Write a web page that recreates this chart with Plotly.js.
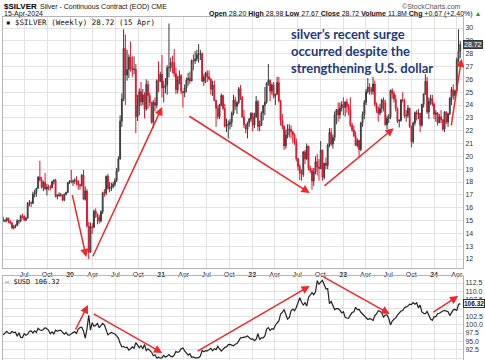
<!DOCTYPE html>
<html><head><meta charset="utf-8">
<script src="https://cdn.plot.ly/plotly-3.0.1.min.js"></script>
<style>html,body{margin:0;padding:0;background:#fff}#c{width:485px;height:360px}</style>
</head><body><div id="c"></div>
<script>
// Weekly bars, week starting Monday 2019-04-08 through 2024-04-15
const firstWeek = '2019-04-08';
const silverOpen = [15.10,14.97,14.98,15.18,14.95,14.80,14.41,14.56,14.60,14.98,14.98,15.37,15.34,15.04,15.18,16.34,16.39,16.34,17.05,17.17,17.51,18.38,18.16,17.58,17.97,17.45,17.62,17.59,17.56,18.03,18.15,16.87,16.98,16.98,16.98,16.59,17.06,17.19,17.96,
18.09,18.01,18.07,18.12,18.09,17.78,17.70,18.55,16.66,17.30,14.58,12.52,14.52,14.47,15.73,15.50,15.28,14.97,15.69,17.17,17.13,18.46,17.50,17.54,17.64,17.82,18.11,18.86,19.79,22.74,24.47,28.42,26.33,26.77,27.73,26.93,26.75,26.80,23.08,23.96,25.05,24.24,24.79,23.70,25.61,24.75,24.20,22.65,24.21,23.98,25.90,25.83,
26.40,25.35,25.43,25.58,26.91,26.92,27.32,27.31,26.44,25.19,25.96,26.29,25.07,24.96,25.33,25.93,26.08,25.87,27.47,27.43,27.58,27.95,27.99,27.99,25.86,26.17,26.50,26.21,26.02,25.22,25.56,24.36,23.75,23.09,24.00,24.74,23.74,22.35,22.43,22.50,22.66,23.37,24.40,23.90,24.19,25.27,24.60,23.07,22.46,22.11,22.59,22.91,
23.35,22.42,23.07,24.27,22.34,22.41,23.38,23.97,24.23,25.68,25.93,25.08,25.56,24.68,24.84,25.75,24.32,22.79,22.36,20.81,21.67,22.10,22.11,21.91,21.68,21.13,19.82,19.22,18.69,18.60,20.35,19.80,20.80,19.06,18.90,18.08,18.78,19.59,19.17,19.05,20.49,18.37,19.47,19.28,20.89,21.87,20.96,21.48,23.24,23.64,23.23,23.77,
24.04,23.81,24.23,23.89,23.67,22.42,22.07,21.61,20.85,21.23,20.53,22.62,23.28,24.20,25.03,25.41,25.25,25.05,25.64,24.06,23.71,23.36,23.73,24.39,24.16,22.46,22.96,23.06,25.15,24.90,24.46,23.75,22.76,22.79,24.40,24.35,23.16,23.18,23.75,22.33,21.14,22.60,23.41,23.29,23.36,22.43,24.06,24.85,25.85,23.46,24.29,24.50,
24.08,23.29,23.39,22.61,23.08,22.86,22.11,23.47,22.66,23.33,24.55,25.20,24.72,25.10,27.53,28.20];
const silverHigh = [15.30,15.10,15.25,15.22,15.05,14.90,14.65,14.70,15.10,15.05,15.45,15.55,15.40,15.30,16.45,16.60,16.50,17.25,17.40,17.55,18.45,19.65,18.40,18.10,18.70,17.85,17.80,17.75,18.10,18.20,18.25,17.05,17.20,17.15,17.05,17.10,17.25,18.00,18.15,
18.95,18.20,18.30,18.45,18.10,17.85,18.60,18.95,17.65,17.45,14.90,14.85,14.80,15.85,15.95,15.55,15.45,15.80,17.25,17.45,18.50,18.65,18.00,17.95,18.00,18.30,19.10,20.00,23.20,24.90,29.90,29.50,28.30,27.95,28.95,27.80,27.80,27.20,24.80,25.30,25.80,25.25,25.00,26.00,25.90,24.95,24.25,24.40,24.60,26.00,27.40,26.60,
27.90,25.90,26.10,27.10,30.35,27.70,27.85,28.35,26.90,26.25,26.70,26.40,25.10,25.60,26.15,26.50,26.60,27.55,27.95,28.20,28.30,28.75,28.30,28.10,26.40,26.60,26.70,26.70,26.10,25.90,25.90,24.40,24.00,24.10,24.90,24.80,24.10,22.95,22.80,22.90,23.50,24.80,24.65,24.30,25.40,25.55,24.70,23.60,22.50,22.70,23.00,23.45,
23.40,23.40,24.70,24.40,22.80,23.50,24.00,25.40,25.80,27.20,26.00,25.70,25.80,24.90,26.20,26.20,24.40,23.30,22.40,22.10,22.50,22.50,22.40,22.00,21.80,21.40,19.90,19.40,19.00,20.40,20.50,21.00,20.80,19.30,19.10,19.10,20.00,20.20,19.80,21.20,20.50,19.50,19.90,21.00,22.20,22.20,21.70,23.50,23.70,24.20,24.20,24.30,
24.60,24.30,24.50,24.10,24.60,22.60,22.40,21.95,21.40,21.30,22.70,23.50,24.40,25.25,26.10,25.70,25.40,26.20,25.90,24.20,23.90,24.10,24.50,24.60,24.40,23.20,23.30,25.20,25.30,25.10,24.80,23.80,22.90,24.45,25.00,24.50,23.60,24.00,23.80,22.40,22.70,23.50,23.60,23.70,23.40,24.10,24.90,26.40,26.20,24.60,24.80,24.80,
24.20,23.60,23.40,23.30,23.60,22.90,23.50,23.50,23.40,24.60,25.40,25.60,25.20,27.70,29.90,28.98];
const silverLow = [14.90,14.85,14.90,14.80,14.70,14.35,14.30,14.40,14.55,14.70,14.85,15.15,14.95,14.95,15.15,16.10,16.05,16.30,16.80,16.85,17.50,18.05,17.50,17.30,17.40,16.95,17.35,17.35,17.50,17.80,16.80,16.65,16.85,16.85,16.50,16.50,16.95,17.15,17.85,
17.90,17.70,17.85,17.75,17.40,17.40,17.65,16.60,16.55,14.45,12.00,12.50,13.95,14.40,15.20,14.70,14.75,14.85,15.50,16.85,16.95,17.40,17.20,17.30,17.50,17.65,18.00,18.80,19.75,22.30,24.30,24.00,25.90,26.10,26.60,26.20,26.40,21.80,22.75,23.20,23.90,24.00,22.95,23.55,23.70,23.90,22.55,22.20,23.50,23.75,25.00,25.85,
24.60,24.20,24.90,24.80,26.15,26.60,26.50,26.20,24.85,24.90,25.60,24.85,23.80,24.60,25.00,25.50,25.65,25.90,26.70,27.20,27.40,27.30,27.50,25.80,25.50,25.70,25.80,25.90,24.80,24.70,24.30,22.30,22.90,22.90,23.90,23.60,22.25,21.90,21.40,22.10,22.30,23.20,23.60,23.30,24.05,24.40,23.00,22.20,21.80,21.40,22.30,22.70,
21.95,22.20,23.00,22.00,21.95,22.40,22.80,23.20,24.10,25.50,24.30,24.80,24.50,24.00,24.80,24.20,22.40,22.10,20.50,20.60,21.40,21.50,21.40,21.00,20.90,19.60,18.90,18.15,18.10,18.40,19.40,19.70,18.90,18.70,17.40,17.70,18.60,18.50,18.10,19.00,18.10,18.20,19.00,19.00,20.70,20.80,20.60,21.20,22.50,22.70,22.90,23.50,
23.20,23.10,23.40,23.20,22.30,21.90,21.50,20.80,20.70,19.90,20.40,22.30,22.90,24.00,24.90,24.80,24.80,24.80,23.90,23.40,22.70,23.20,23.40,23.50,22.40,22.10,22.60,22.90,24.50,24.20,23.50,22.60,22.25,22.70,24.20,23.00,22.70,23.00,22.20,20.70,21.00,22.40,22.80,22.90,21.90,22.30,23.80,24.80,23.30,22.90,24.00,23.90,
22.90,22.70,22.40,22.60,22.60,22.00,21.90,22.50,22.30,23.20,24.00,24.40,24.50,25.00,27.30,27.67];
const silverClose = [14.97,14.98,15.18,14.95,14.80,14.41,14.56,14.60,14.98,14.98,15.37,15.34,15.04,15.18,16.34,16.39,16.34,17.05,17.17,17.51,18.38,18.16,17.58,17.97,17.45,17.62,17.59,17.56,18.03,18.15,16.87,16.98,16.98,16.98,16.59,17.06,17.19,17.96,18.09,
18.01,18.07,18.12,18.09,17.78,17.70,18.55,16.66,17.30,14.58,12.52,14.52,14.47,15.73,15.50,15.28,14.97,15.69,17.17,17.13,18.46,17.50,17.54,17.64,17.82,18.11,18.86,19.79,22.74,24.47,28.42,26.33,26.77,27.73,26.93,26.75,26.80,23.08,23.96,25.05,24.24,24.79,23.70,25.61,24.75,24.20,22.65,24.21,23.98,25.90,25.83,26.40,
25.35,25.43,25.58,26.91,26.92,27.32,27.31,26.44,25.19,25.96,26.29,25.07,24.96,25.33,25.93,26.08,25.87,27.47,27.43,27.58,27.95,27.99,27.99,25.86,26.17,26.50,26.21,26.02,25.22,25.56,24.36,23.75,23.09,24.00,24.74,23.74,22.35,22.43,22.50,22.66,23.37,24.40,23.90,24.19,25.27,24.60,23.07,22.46,22.11,22.59,22.91,23.35,
22.42,23.07,24.27,22.34,22.41,23.38,23.97,24.23,25.68,25.93,25.08,25.56,24.68,24.84,25.75,24.32,22.79,22.36,20.81,21.67,22.10,22.11,21.91,21.68,21.13,19.82,19.22,18.69,18.60,20.35,19.80,20.80,19.06,18.90,18.08,18.78,19.59,19.17,19.05,20.49,18.37,19.47,19.28,20.89,21.87,20.96,21.48,23.24,23.64,23.23,23.77,24.04,
23.81,24.23,23.89,23.67,22.42,22.07,21.61,20.85,21.23,20.53,22.62,23.28,24.20,25.03,25.41,25.25,25.05,25.64,24.06,23.71,23.36,23.73,24.39,24.16,22.46,22.96,23.06,25.15,24.90,24.46,23.75,22.76,22.79,24.40,24.35,23.16,23.18,23.75,22.33,21.14,22.60,23.41,23.29,23.36,22.43,24.06,24.85,25.85,23.46,24.29,24.50,24.08,
23.29,23.39,22.61,23.08,22.86,22.11,23.47,22.66,23.33,24.55,25.20,24.72,25.10,27.53,28.20,28.72];
const usdClose = [96.93,97.40,98.01,97.48,97.33,97.99,97.61,97.75,96.54,97.57,96.20,96.13,97.29,96.80,97.15,98.01,98.12,97.51,98.15,97.67,98.92,98.40,98.27,98.54,99.10,98.80,98.29,97.27,97.84,97.24,98.35,97.98,98.28,98.27,97.70,97.17,97.66,96.92,96.84,
97.36,97.61,97.87,97.39,98.69,99.13,99.26,98.13,95.99,98.75,102.82,98.37,100.58,99.51,99.78,100.38,99.04,99.76,100.38,99.86,98.34,96.94,97.33,97.64,97.43,97.18,96.66,95.97,94.44,93.35,93.44,93.10,93.24,92.37,92.79,93.33,92.93,94.63,93.84,93.06,93.69,92.77,94.04,92.23,92.75,92.39,91.79,90.70,90.98,90.02,90.22,89.94,
90.10,90.77,90.24,90.58,91.03,90.48,90.36,90.88,91.98,91.67,91.92,92.77,93.02,92.16,91.56,90.84,91.28,90.23,90.31,90.02,90.03,90.13,90.55,92.23,91.85,92.23,92.12,92.68,92.91,92.17,92.80,92.52,93.51,92.70,92.09,92.60,93.19,93.33,94.04,94.08,93.96,93.63,94.12,94.32,95.13,96.03,96.09,96.15,96.35,96.59,96.02,95.67,
95.72,95.17,95.64,97.27,95.49,96.07,96.04,96.62,98.66,99.13,98.23,98.79,98.61,99.84,100.50,101.12,103.20,103.66,104.56,103.15,101.67,102.16,104.15,104.69,104.20,105.14,106.87,108.06,106.73,105.90,106.62,105.57,108.17,108.82,109.60,109.00,109.76,113.19,112.12,112.75,113.31,111.98,110.75,110.79,106.29,106.96,105.96,104.52,104.80,104.84,104.34,103.52,
103.89,102.20,101.99,101.92,102.92,103.63,103.86,105.21,104.52,104.58,103.72,103.12,102.51,102.10,101.55,101.82,101.66,101.22,102.69,103.20,104.21,104.03,103.55,102.26,102.90,102.91,101.93,99.91,101.07,101.62,102.02,102.85,103.39,104.10,104.26,105.08,105.33,105.58,106.17,106.05,106.65,106.16,106.59,105.06,105.87,103.84,103.40,103.26,103.97,102.58,101.70,101.33,
102.42,102.40,103.29,103.43,103.92,104.11,104.29,103.94,103.86,102.72,103.43,104.43,104.55,104.30,106.04,106.32];
const tickDates = ['2019-07-01','2019-10-01','2020-01-01','2020-04-01','2020-07-01','2020-10-01','2021-01-01','2021-04-01','2021-07-01','2021-10-01','2022-01-01','2022-04-01','2022-07-01','2022-10-01','2023-01-01','2023-04-01','2023-07-01','2023-10-01','2024-01-01','2024-04-01'];
const tickLabels = ['Jul','Oct','<b>20</b>','Apr','Jul','Oct','<b>21</b>','Apr','Jul','Oct','<b>22</b>','Apr','Jul','Oct','<b>23</b>','Apr','Jul','Oct','<b>24</b>','Apr'];
const silverTicks = [12,13,14,15,16,17,18,19,20,21,22,23,24,25,26,27,28,29,30];
const usdTicks = [90,92.5,95,97.5,100,102.5,105,107.5,110,112.5];
const usdTickText = ['90.0','92.5','95.0','97.5','100.0','102.5','','107.5','110.0','112.5'];
const headerStats = '<b>Open</b> 28.20 <b>High</b> 28.98 <b>Low</b> 27.67 <b>Close</b> 28.72 <b>Volume</b> 11.8M <b>Chg</b> +0.67 (+2.40%) <span style="color:#2a9a2a">▲</span>';
const noteText = 'silver’s recent surge<br>occurred despite the<br>strengthening U.S. dollar';
// trend arrows: [tailDate, tailVal, headDate, headVal]
const silverArrows = [
 ['2020-01-09',17.1,'2020-03-06',12.15],
 ['2020-03-30',12.1,'2021-01-05',23.85],
 ['2021-04-18',23.2,'2022-08-20',17.15],
 ['2022-10-12',17.6,'2023-07-23',22.2],
 ['2024-03-09',22.3,'2024-04-20',27.6]];
const usdArrows = [
 ['2020-01-20',98.1,'2020-03-13',105.9],
 ['2020-03-30',103.5,'2021-01-05',91.5],
 ['2021-05-21',91.8,'2022-08-20',111.6],
 ['2022-10-08',114.6,'2023-07-07',103.2],
 ['2023-12-23',103.5,'2024-04-07',108.6]];

const weeks = [];
{ const d0 = new Date(firstWeek + 'T00:00:00Z');
  for (let i = 0; i < silverClose.length; i++) {
    const d = new Date(d0.getTime() + i * 7 * 86400000);
    weeks.push(d.toISOString().slice(0, 10));
  } }

const W = 485, H = 360, ML = 3, MR = 22, MT = 17, MB = 0;
const PW = W - ML - MR, PH = H - MT - MB;
const px = X => (X - ML) / PW;
const py = Y => (H - MB - Y) / PH;

const font = 'Liberation Sans, Arial, sans-serif';
const mono = 'DejaVu Sans Mono, Liberation Mono, monospace';
const grid = '#e3e3e3', border = '#b5b5b5';

const traces = [
 {type:'candlestick', x:weeks, open:silverOpen, high:silverHigh, low:silverLow, close:silverClose,
  xaxis:'x', yaxis:'y', whiskerwidth:0,
  increasing:{line:{color:'#3a3a3a', width:1}, fillcolor:'#7a7a7a'},
  decreasing:{line:{color:'#e0142e', width:1}, fillcolor:'#e0142e'},
  hoverinfo:'skip', showlegend:false},
 {type:'scatter', mode:'lines', x:weeks, y:usdClose, xaxis:'x2', yaxis:'y2',
  line:{color:'#222', width:1.2}, hoverinfo:'skip', showlegend:false}
];

const ann = [];
const A = (o) => ann.push(Object.assign({showarrow:false, xref:'paper', yref:'paper'}, o));
A({text:'<b>$SILVER</b>', x:px(2), y:py(6), xanchor:'left', yanchor:'middle', font:{family:font, size:8, color:'#000'}});
A({text:'Silver - Continuous Contract (EOD) CME', x:px(38), y:py(7), xanchor:'left', yanchor:'middle', font:{family:font, size:7, color:'#111'}});
A({text:'15-Apr-2024', x:px(2), y:py(14.5), xanchor:'left', yanchor:'middle', font:{family:font, size:7, color:'#111'}});
A({text:headerStats, x:px(484), y:py(14), xanchor:'right', yanchor:'middle', font:{family:font, size:7, color:'#111'}});
A({text:'©StockCharts.com', x:px(463), y:py(6), xanchor:'right', yanchor:'middle', font:{family:font, size:7, color:'#555'}});
A({text:'▪ $SILVER (Weekly) 28.72 (15 Apr)', x:px(4), y:py(22.5), xanchor:'left', yanchor:'middle', font:{family:mono, size:7.5, color:'#111'}});
A({text:'— $USD 106.32', x:px(3), y:py(281.5), xanchor:'left', yanchor:'middle', font:{family:mono, size:7, color:'#111'}});
A({text:noteText, x:px(289), y:py(24), xanchor:'left', yanchor:'top', align:'left', font:{family:'Lato, sans-serif', size:13, color:'#1f3a78', weight:'bold'}});
A({text:'28.72', x:px(463), xanchor:'left', yref:'y', y:silverClose[silverClose.length-1], yanchor:'middle', bgcolor:'#555', bordercolor:'#333', borderwidth:1, borderpad:0, font:{family:font, size:7, color:'#fff'}});
A({text:'<b>106.32</b>', x:px(463), xanchor:'left', yref:'y2', y:usdClose[usdClose.length-1], yanchor:'middle', bgcolor:'#fff', bordercolor:'#333', borderwidth:1, borderpad:0, font:{family:font, size:6.5, color:'#111'}});
const arrow = (a, xr, yr) => ann.push({xref:xr, yref:yr, axref:xr, ayref:yr, x:a[2], y:a[3], ax:a[0], ay:a[1], text:'', showarrow:true, arrowhead:2, arrowsize:1.1, arrowwidth:1.5, arrowcolor:'#f0282a', standoff:0});
silverArrows.forEach(a => arrow(a, 'x', 'y'));
usdArrows.forEach(a => arrow(a, 'x2', 'y2'));

const xCommon = {type:'date', range:['2019-04-07','2024-04-26'], tickmode:'array', tickvals:tickDates, ticktext:tickLabels,
  showgrid:true, gridcolor:grid, gridwidth:1, showline:true, mirror:true, linecolor:border, linewidth:1, ticks:'', zeroline:false,
  tickfont:{family:font, size:7, color:'#333'}};

const layout = {
  width:W, height:H, margin:{l:ML, r:MR, t:MT, b:MB}, paper_bgcolor:'#fff', plot_bgcolor:'#fff', showlegend:false,
  xaxis: Object.assign({}, xCommon, {anchor:'y', domain:[0,1], rangeslider:{visible:false}}),
  xaxis2: Object.assign({}, xCommon, {anchor:'y2', domain:[0,1], matches:'x', showticklabels:false}),
  yaxis: {domain:[py(268), 1], range:[11.3, 30.86], side:'right', tickmode:'array', tickvals:silverTicks,
    showgrid:true, gridcolor:grid, showline:true, mirror:true, linecolor:border, zeroline:false, ticks:'',
    tickfont:{family:font, size:7, color:'#333'}},
  yaxis2: {domain:[0, py(276)], range:[89.4, 114.6], side:'right', tickmode:'array', tickvals:usdTicks, ticktext:usdTickText,
    showgrid:true, gridcolor:grid, showline:true, mirror:true, linecolor:border, zeroline:false, ticks:'',
    tickfont:{family:font, size:7, color:'#333'}},
  annotations: ann
};
Plotly.newPlot('c', traces, layout, {staticPlot:true, displayModeBar:false});
</script></body></html>
